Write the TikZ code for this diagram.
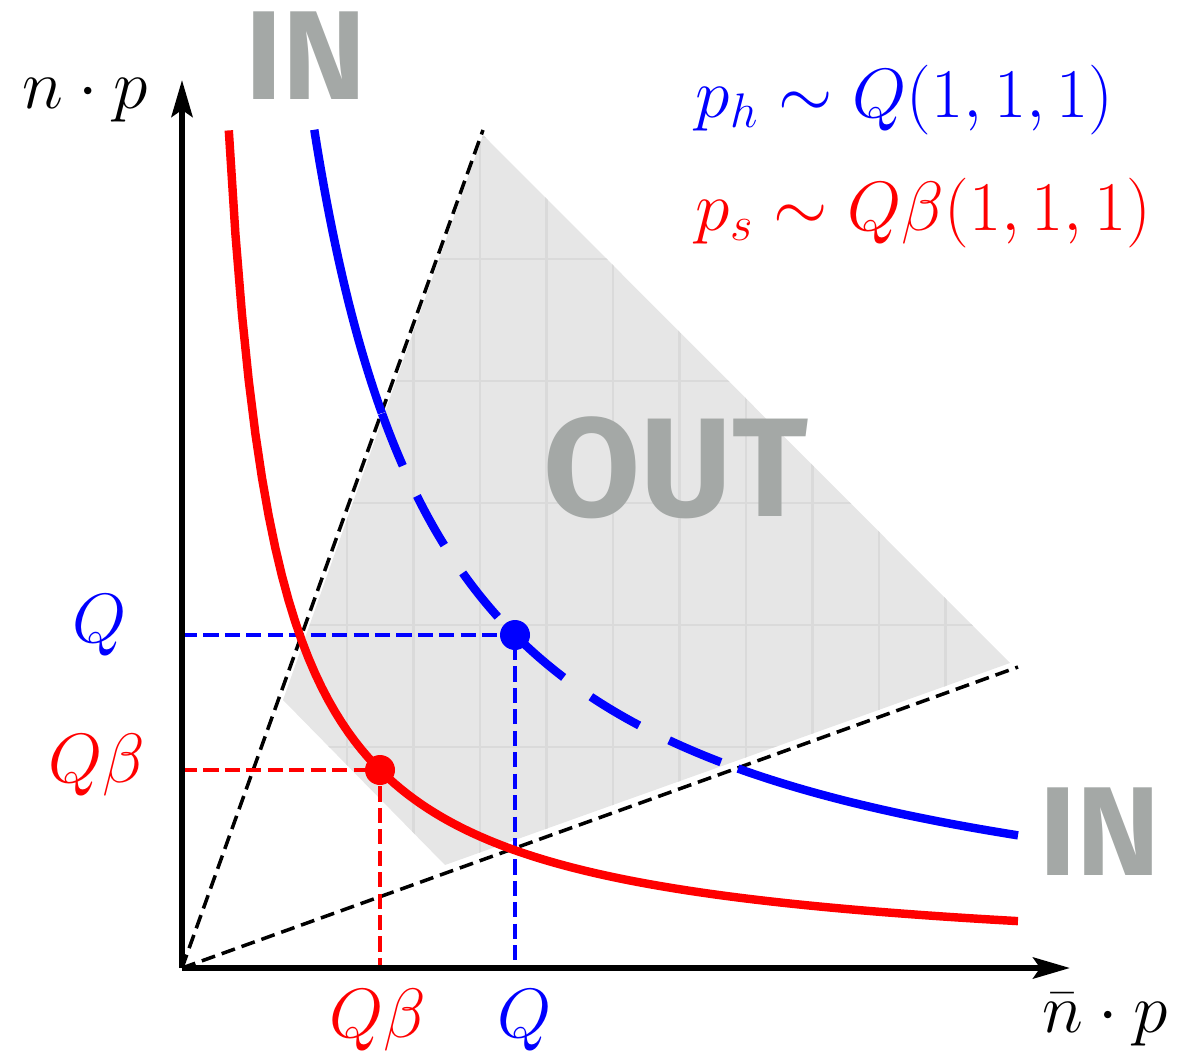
\documentclass[tikz,border=0pt]{standalone}
\usepackage{amsmath,amssymb}
\usepackage{fontspec}
\usepackage{tikz}
\usetikzlibrary{arrows.meta,calc}
\usepackage{xcolor}
\newfontfamily\handfont{Fira Sans}
\definecolor{zonegrey}{RGB}{230,230,230}
\definecolor{gridgrey}{RGB}{218,218,218}
\definecolor{inoutgrey}{RGB}{164,168,166}
\tikzset{
  >={Stealth[length=10.5pt,width=6pt,inset=2pt]},
  axis/.style={->, line width=1.6pt},
  ray/.style={black, line width=1pt, dash pattern=on 4pt off 2pt},
  level/.style={line width=1.1pt, dash pattern=on 4.3pt off 1.8pt},
  curve/.style={line width=2.4pt, samples=120},
  zone/.style={font=\handfont\bfseries\fontsize{36}{40}\selectfont, text=inoutgrey},
  lbl/.style={font=\fontsize{17.28}{20}\selectfont, scale=1.15},
}

\begin{document}
\begin{tikzpicture}

\useasboundingbox (-1.82,-0.88) rectangle (10.08,9.68);

\coordinate (O) at (0,0);
\coordinate (xend) at (8.88,0);
\coordinate (yend) at (0,8.88);
\coordinate (steep) at (3.01,8.38);
\coordinate (flat) at (8.36,3.01);
\coordinate (Qh) at (3.33,3.33);
\coordinate (Qs) at (1.98,1.98);
\coordinate (Qhx) at (3.33,0);
\coordinate (Qhy) at (0,3.33);
\coordinate (Qsx) at (1.98,0);
\coordinate (Qsy) at (0,1.98);

\fill[zonegrey] (3.01,8.33) -- (8.28,3.05) -- (2.63,1.03) -- (1.01,2.68) -- cycle;
\begin{scope}
  \clip (3.01,8.33) -- (8.28,3.05) -- (2.63,1.03) -- (1.01,2.68) -- cycle;
  \foreach \gx in {0,...,9}
    \draw[gridgrey, line width=0.6pt] ({1.65+0.665*\gx},0.5) -- ({1.65+0.665*\gx},8.5);
  \foreach \gy in {0,...,6}
    \draw[gridgrey, line width=0.6pt] (0.5,{0.99+1.22*\gy}) -- (8.5,{0.99+1.22*\gy});
\end{scope}

\draw[ray] (O) -- (steep);
\draw[ray] (O) -- (flat);

\draw[level, blue] (Qhy) -- (Qh) -- (Qhx);
\draw[level, red] (Qsy) -- (Qs) -- (Qsx);

\draw[curve, red, domain=0.468:8.36] plot (\x, {3.92/\x});
\draw[curve, blue, domain=1.323:2.0] plot (\x, {11.09/\x});
\draw[curve, blue, domain=2.0:5.56, dash pattern=on 16pt off 9.5pt] plot (\x, {11.09/\x});
\draw[curve, blue, domain=5.56:8.36] plot (\x, {11.09/\x});

\fill[blue] (Qh) circle (0.15);
\fill[red] (Qs) circle (0.15);

\draw[axis] (O) -- (xend);
\draw[axis] (O) -- (yend);

\node[lbl] (ylab) at (-0.97,8.68) {$n\cdot p$};
\node[lbl] (xlab) at (9.23,-0.52) {$\bar{n}\cdot p$};
\node[lbl, blue] (qy) at (-0.82,3.43) {$Q$};
\node[lbl, red] (qby) at (-0.85,2.03) {$Q\beta$};
\node[lbl, red] (qbx) at (1.96,-0.52) {$Q\beta$};
\node[lbl, blue] (qx) at (3.43,-0.52) {$Q$};
\node[lbl, blue, anchor=west, inner sep=0pt] (leg1) at (5.13,8.68) {$p_h \sim Q(1,1,1)$};
\node[lbl, red, anchor=west, inner sep=0pt] (leg2) at (5.13,7.55) {$p_s \sim Q\beta(1,1,1)$};

\node[zone] (intop) at (1.24,9.12) {IN};
\node[zone] (inright) at (9.18,1.36) {IN};
\node[zone, font=\handfont\bfseries\fontsize{40}{44}\selectfont] (out) at (4.94,5.00) {OUT};

\end{tikzpicture}
\end{document}
